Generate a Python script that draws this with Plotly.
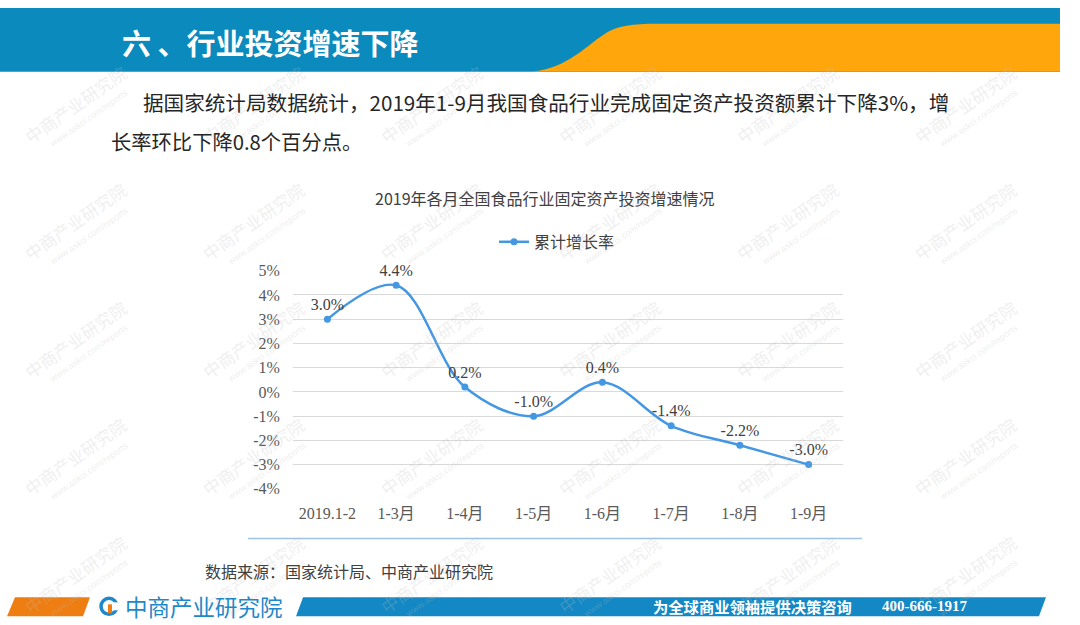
import plotly.graph_objects as go

# data
periods = ["2019.1-2", "1-3月", "1-4月", "1-5月", "1-6月", "1-7月", "1-8月", "1-9月"]
growth = [3.0, 4.4, 0.2, -1.0, 0.4, -1.4, -2.2, -3.0]
point_labels = ["3.0%", "4.4%", "0.2%", "-1.0%", "0.4%", "-1.4%", "-2.2%", "-3.0%"]
y_ticks = [-4, -3, -2, -1, 0, 1, 2, 3, 4, 5]
y_tick_labels = ["-4%", "-3%", "-2%", "-1%", "0%", "1%", "2%", "3%", "4%", "5%"]

W, H = 1080, 625
CJK = "Noto Sans CJK SC"
SERIF = "Liberation Serif, Noto Sans CJK SC"
# the captured page comes out slightly squeezed vertically, so compensate
Y0, SY = 6.1, 0.977


def px(x):
    return x / W


def py(y):
    return 1 - (y - Y0) / SY / H


def path(points):
    # points given in pixels, converted to paper units
    s = "M {:.4f},{:.4f} ".format(px(points[0][0]), py(points[0][1]))
    for p in points[1:]:
        s += "L {:.4f},{:.4f} ".format(px(p[0]), py(p[1]))
    return s + "Z"


def label(x, y, text, size, color, family=CJK, xanchor="left", **kw):
    return dict(x=px(x), y=py(y), xref="paper", yref="paper", text=text,
                showarrow=False, xanchor=xanchor, yanchor="middle",
                font=dict(family=family, size=size, color=color), **kw)


fig = go.Figure()

fig.add_trace(go.Scatter(
    x=periods, y=growth,
    mode="lines+markers+text",
    name="累计增长率",
    line=dict(color="#4397e3", width=2.5, shape="spline", smoothing=1.0),
    marker=dict(color="#4397e3", size=7),
    text=point_labels,
    textposition="top center",
    textfont=dict(family=SERIF, size=16, color="#404040"),
    cliponaxis=False,
))

shapes = []
# header band
shapes.append(dict(type="rect", xref="paper", yref="paper",
                   x0=0, x1=px(1060), y0=py(70), y1=1,
                   fillcolor="#0a8abd", line_width=0, layer="below"))
orange = "M {:.4f},{:.4f} C {:.4f},{:.4f} {:.4f},{:.4f} {:.4f},{:.4f} C {:.4f},{:.4f} {:.4f},{:.4f} {:.4f},{:.4f} L {:.4f},{:.4f} L {:.4f},{:.4f} Z".format(
    px(532), py(70), px(568), py(67), px(588), py(42), px(608), py(30),
    px(624), py(22), px(640), py(22), px(665), py(22),
    px(1060), py(22), px(1060), py(70))
shapes.append(dict(type="path", xref="paper", yref="paper", path=orange,
                   fillcolor="#fea60b", line_width=0, layer="below"))
# line under the chart
shapes.append(dict(type="line", xref="paper", yref="paper",
                   x0=px(248), x1=px(862), y0=py(539), y1=py(539),
                   line=dict(color="#9dc3e6", width=1.5)))
# footer bands
shapes.append(dict(type="path", xref="paper", yref="paper",
                   path=path([(15, 598), (90, 598), (83, 617), (7, 617)]),
                   fillcolor="#ee7d12", line_width=0, layer="below"))
shapes.append(dict(type="path", xref="paper", yref="paper",
                   path=path([(303, 598), (1046, 598), (1039, 617), (296, 617)]),
                   fillcolor="#1388c4", line_width=0, layer="below"))
# logo icon
shapes.append(dict(type="circle", xref="paper", yref="paper",
                   x0=px(101), x1=px(117), y0=py(615), y1=py(599),
                   line=dict(color="#1e88c8", width=3.5)))
shapes.append(dict(type="rect", xref="paper", yref="paper",
                   x0=px(112), x1=px(120), y0=py(611), y1=py(603),
                   fillcolor="white", line_width=0))
shapes.append(dict(type="rect", xref="paper", yref="paper",
                   x0=px(108), x1=px(112), y0=py(614), y1=py(605),
                   fillcolor="#ee7d12", line_width=0))

annotations = []
# faint watermarks
for gx in range(35, 1080, 178):
    for gy in range(125, 640, 118):
        annotations.append(label(gx + 40, gy - 22, "中商产业研究院", 17,
                                 "rgba(190,190,190,0.25)", xanchor="center", textangle=-35))
        annotations.append(label(gx + 54, gy - 8, "www.askci.com/reports", 9,
                                 "rgba(190,190,190,0.28)", family="Arial", xanchor="center",
                                 textangle=-35))

annotations.append(label(120, 40, "<b>六 、行业投资增速下降</b>", 29, "white"))
annotations.append(label(141, 101,
                         "据国家统计局数据统计，2019年1-9月我国食品行业完成固定资产投资额累计下降3%，增",
                         20.6, "#262626"))
annotations.append(label(109, 140, "长率环比下降0.8个百分点。", 20.3, "#262626"))
annotations.append(label(545, 197, "2019年各月全国食品行业固定资产投资增速情况", 16,
                         "#404040", xanchor="center"))
annotations.append(label(203, 572, "数据来源：国家统计局、中商产业研究院", 16, "#404040"))
annotations.append(label(123, 607, "中商产业研究院", 22.5, "#1e88c8"))
annotations.append(label(651, 607, "<b>为全球商业领袖提供决策咨询</b>", 15.3, "white"))
annotations.append(label(880, 607, "<b>400-666-1917</b>", 15, "white", family=SERIF))

fig.update_layout(
    width=W, height=H, autosize=False,
    margin=dict(l=0, r=0, t=0, b=0),
    paper_bgcolor="white", plot_bgcolor="white",
    shapes=shapes, annotations=annotations,
    showlegend=True,
    legend=dict(orientation="h", x=px(557), xanchor="center", y=py(241), yanchor="middle",
                font=dict(family=CJK, size=16, color="#404040"), itemwidth=30,
                bgcolor="rgba(0,0,0,0)"),
    xaxis=dict(domain=[px(293), px(843)], type="category", range=[-0.5, 7.5],
               showgrid=False, showline=False, zeroline=False,
               ticks="outside", ticklen=10, tickcolor="rgba(0,0,0,0)",
               tickfont=dict(family=SERIF, size=16, color="#595959")),
    yaxis=dict(domain=[py(489), py(270)], range=[-4, 5],
               tickvals=y_ticks, ticktext=y_tick_labels,
               showgrid=True, gridcolor="#d9d9d9", gridwidth=1,
               zeroline=False, showline=False,
               ticks="outside", ticklen=9, tickcolor="rgba(0,0,0,0)",
               tickfont=dict(family=SERIF, size=16, color="#595959")),
)

page_fix = ("document.body.style.margin='0px';"
            "var gd=document.getElementById('{plot_id}');"
            "gd.style.position='absolute';gd.style.left='0px';gd.style.top='0px';")
fig.write_html("out.html", config={"displayModeBar": False}, post_script=page_fix)
